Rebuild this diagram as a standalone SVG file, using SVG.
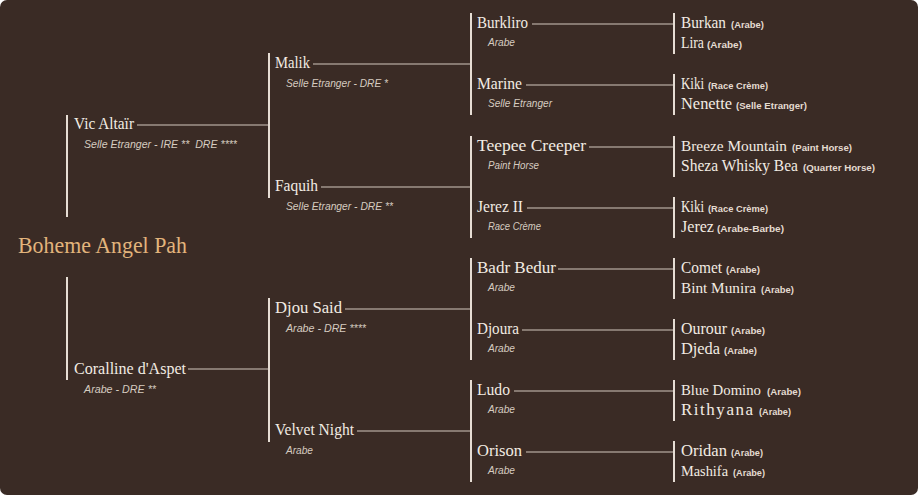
<svg xmlns="http://www.w3.org/2000/svg" width="918" height="495" viewBox="0 0 918 495">
<style>
.bg{fill:#3a2b25}
.v{stroke:#e6ddd4;stroke-width:2;fill:none}
.h{stroke:#d2c8be;stroke-width:1.2;fill:none}
.n{font-family:"Liberation Serif",serif;font-size:17px;fill:#f2ebe3}
.s{font-family:"Liberation Sans",sans-serif;font-size:10px;fill:#d6ccc0;font-style:italic}
.p{font-family:"Liberation Sans",sans-serif;font-size:9.5px;fill:#e4dbd1;font-weight:bold}
.root{font-family:"Liberation Serif",serif;font-size:23px;fill:#e2b47c}
</style>
<rect width="918" height="495" fill="#ffffff"/>
<rect class="bg" x="0" y="0" width="918" height="495" rx="7" ry="7"/>
<g id="connectors">
<line class="v" x1="67" y1="115" x2="67" y2="217"/>
<line class="v" x1="67" y1="277" x2="67" y2="380"/>
<line class="h" x1="137" y1="125" x2="269" y2="125"/>
<line class="h" x1="188" y1="369" x2="269" y2="369"/>
<line class="v" x1="269" y1="53" x2="269" y2="198"/>
<line class="v" x1="269" y1="298" x2="269" y2="442"/>
<line class="h" x1="313" y1="64" x2="471" y2="64"/>
<line class="h" x1="321" y1="187" x2="471" y2="187"/>
<line class="h" x1="345" y1="309" x2="471" y2="309"/>
<line class="h" x1="357" y1="431" x2="471" y2="431"/>
<line class="v" x1="471" y1="13" x2="471" y2="115"/>
<line class="v" x1="471" y1="136" x2="471" y2="238"/>
<line class="v" x1="471" y1="258" x2="471" y2="360"/>
<line class="v" x1="471" y1="380" x2="471" y2="482"/>
<line class="h" x1="532" y1="24" x2="674" y2="24"/>
<line class="h" x1="526" y1="85" x2="674" y2="85"/>
<line class="h" x1="589" y1="147" x2="674" y2="147"/>
<line class="h" x1="527" y1="208" x2="674" y2="208"/>
<line class="h" x1="558" y1="269" x2="674" y2="269"/>
<line class="h" x1="522" y1="330" x2="674" y2="330"/>
<line class="h" x1="514" y1="391" x2="674" y2="391"/>
<line class="h" x1="526" y1="452" x2="674" y2="452"/>
<line class="v" x1="674" y1="13" x2="674" y2="54"/>
<line class="v" x1="674" y1="74" x2="674" y2="115"/>
<line class="v" x1="674" y1="136" x2="674" y2="177"/>
<line class="v" x1="674" y1="197" x2="674" y2="238"/>
<line class="v" x1="674" y1="258" x2="674" y2="299"/>
<line class="v" x1="674" y1="319" x2="674" y2="360"/>
<line class="v" x1="674" y1="380" x2="674" y2="421"/>
<line class="v" x1="674" y1="441" x2="674" y2="482"/>
</g>
<g id="boheme-angel-pah"><text class="root" x="18" y="253" textLength="169" lengthAdjust="spacingAndGlyphs">Boheme Angel Pah</text></g>
<g id="vic-altair"><text class="n" x="74" y="129" textLength="60" lengthAdjust="spacingAndGlyphs">Vic Altaïr</text><text class="s" x="84" y="148" textLength="153" lengthAdjust="spacingAndGlyphs" xml:space="preserve">Selle Etranger - IRE **  DRE ****</text></g>
<g id="coralline"><text class="n" x="74" y="374" textLength="112" lengthAdjust="spacingAndGlyphs">Coralline d'Aspet</text><text class="s" x="84" y="393" textLength="72" lengthAdjust="spacingAndGlyphs">Arabe - DRE **</text></g>
<g id="malik"><text class="n" x="275" y="68" textLength="35" lengthAdjust="spacingAndGlyphs">Malik</text><text class="s" x="286" y="87" textLength="102" lengthAdjust="spacingAndGlyphs">Selle Etranger - DRE *</text></g>
<g id="faquih"><text class="n" x="275" y="191" textLength="43" lengthAdjust="spacingAndGlyphs">Faquih</text><text class="s" x="286" y="210" textLength="107" lengthAdjust="spacingAndGlyphs">Selle Etranger - DRE **</text></g>
<g id="djou-said"><text class="n" x="275" y="313" textLength="67" lengthAdjust="spacingAndGlyphs">Djou Said</text><text class="s" x="286" y="332" textLength="80" lengthAdjust="spacingAndGlyphs">Arabe - DRE ****</text></g>
<g id="velvet-night"><text class="n" x="275" y="435" textLength="79" lengthAdjust="spacingAndGlyphs">Velvet Night</text><text class="s" x="286" y="454" textLength="27" lengthAdjust="spacingAndGlyphs">Arabe</text></g>
<g id="burkliro"><text class="n" x="477" y="28" textLength="51" lengthAdjust="spacingAndGlyphs">Burkliro</text><text class="s" x="488" y="46" textLength="27" lengthAdjust="spacingAndGlyphs">Arabe</text></g>
<g id="marine"><text class="n" x="477" y="89" textLength="45" lengthAdjust="spacingAndGlyphs">Marine</text><text class="s" x="488" y="107" textLength="64" lengthAdjust="spacingAndGlyphs">Selle Etranger</text></g>
<g id="teepee-creeper"><text class="n" x="477" y="151" textLength="109" lengthAdjust="spacingAndGlyphs">Teepee Creeper</text><text class="s" x="488" y="169" textLength="51" lengthAdjust="spacingAndGlyphs">Paint Horse</text></g>
<g id="jerez-ii"><text class="n" x="477" y="212" textLength="46" lengthAdjust="spacingAndGlyphs">Jerez II</text><text class="s" x="488" y="230" textLength="53" lengthAdjust="spacingAndGlyphs">Race Crème</text></g>
<g id="badr-bedur"><text class="n" x="477" y="273" textLength="79" lengthAdjust="spacingAndGlyphs">Badr Bedur</text><text class="s" x="488" y="291" textLength="27" lengthAdjust="spacingAndGlyphs">Arabe</text></g>
<g id="djoura"><text class="n" x="477" y="334" textLength="42" lengthAdjust="spacingAndGlyphs">Djoura</text><text class="s" x="488" y="352" textLength="27" lengthAdjust="spacingAndGlyphs">Arabe</text></g>
<g id="ludo"><text class="n" x="477" y="395" textLength="33" lengthAdjust="spacingAndGlyphs">Ludo</text><text class="s" x="488" y="413" textLength="27" lengthAdjust="spacingAndGlyphs">Arabe</text></g>
<g id="orison"><text class="n" x="477" y="456" textLength="45" lengthAdjust="spacingAndGlyphs">Orison</text><text class="s" x="488" y="474" textLength="27" lengthAdjust="spacingAndGlyphs">Arabe</text></g>
<g id="burkan"><text class="n" x="681" y="28" textLength="45" lengthAdjust="spacingAndGlyphs">Burkan</text><text class="p" x="731" y="28" textLength="33" lengthAdjust="spacingAndGlyphs">(Arabe)</text></g>
<g id="lira"><text class="n" x="681" y="48" textLength="23" lengthAdjust="spacingAndGlyphs">Lira</text><text class="p" x="707" y="48" textLength="35" lengthAdjust="spacingAndGlyphs">(Arabe)</text></g>
<g id="kiki-1"><text class="n" x="681" y="89" textLength="23" lengthAdjust="spacingAndGlyphs">Kiki</text><text class="p" x="708" y="89" textLength="60" lengthAdjust="spacingAndGlyphs">(Race Crème)</text></g>
<g id="nenette"><text class="n" x="681" y="109" textLength="51" lengthAdjust="spacingAndGlyphs">Nenette</text><text class="p" x="736" y="109" textLength="71" lengthAdjust="spacingAndGlyphs">(Selle Etranger)</text></g>
<g id="breeze-mountain"><text class="n" x="681" y="151" textLength="106" lengthAdjust="spacingAndGlyphs" style="font-size:15.2px">Breeze Mountain</text><text class="p" x="792" y="151" textLength="60" lengthAdjust="spacingAndGlyphs">(Paint Horse)</text></g>
<g id="sheza-whisky-bea"><text class="n" x="681" y="171" textLength="117" lengthAdjust="spacingAndGlyphs">Sheza Whisky Bea</text><text class="p" x="803" y="171" textLength="72" lengthAdjust="spacingAndGlyphs">(Quarter Horse)</text></g>
<g id="kiki-2"><text class="n" x="681" y="212" textLength="23" lengthAdjust="spacingAndGlyphs">Kiki</text><text class="p" x="708" y="212" textLength="60" lengthAdjust="spacingAndGlyphs">(Race Crème)</text></g>
<g id="jerez"><text class="n" x="681" y="232" textLength="33" lengthAdjust="spacingAndGlyphs">Jerez</text><text class="p" x="717" y="232" textLength="67" lengthAdjust="spacingAndGlyphs">(Arabe-Barbe)</text></g>
<g id="comet"><text class="n" x="681" y="273" textLength="41" lengthAdjust="spacingAndGlyphs">Comet</text><text class="p" x="726" y="273" textLength="34" lengthAdjust="spacingAndGlyphs">(Arabe)</text></g>
<g id="bint-munira"><text class="n" x="681" y="293" textLength="75" lengthAdjust="spacingAndGlyphs" style="font-size:15.1px">Bint Munira</text><text class="p" x="761" y="293" textLength="33" lengthAdjust="spacingAndGlyphs">(Arabe)</text></g>
<g id="ourour"><text class="n" x="681" y="334" textLength="46" lengthAdjust="spacingAndGlyphs">Ourour</text><text class="p" x="731" y="334" textLength="34" lengthAdjust="spacingAndGlyphs">(Arabe)</text></g>
<g id="djeda"><text class="n" x="681" y="354" textLength="39" lengthAdjust="spacingAndGlyphs">Djeda</text><text class="p" x="724" y="354" textLength="33" lengthAdjust="spacingAndGlyphs">(Arabe)</text></g>
<g id="blue-domino"><text class="n" x="681" y="395" textLength="80" lengthAdjust="spacingAndGlyphs" style="font-size:14.7px">Blue Domino</text><text class="p" x="767" y="395" textLength="34" lengthAdjust="spacingAndGlyphs">(Arabe)</text></g>
<g id="rithyana"><text class="n" x="681" y="415" textLength="72" lengthAdjust="spacing">Rithyana</text><text class="p" x="759" y="415" textLength="32" lengthAdjust="spacingAndGlyphs">(Arabe)</text></g>
<g id="oridan"><text class="n" x="681" y="456" textLength="46" lengthAdjust="spacingAndGlyphs">Oridan</text><text class="p" x="731" y="456" textLength="32" lengthAdjust="spacingAndGlyphs">(Arabe)</text></g>
<g id="mashifa"><text class="n" x="681" y="476" textLength="47" lengthAdjust="spacingAndGlyphs" style="font-size:14.2px">Mashifa</text><text class="p" x="733" y="476" textLength="32" lengthAdjust="spacingAndGlyphs">(Arabe)</text></g>
</svg>
